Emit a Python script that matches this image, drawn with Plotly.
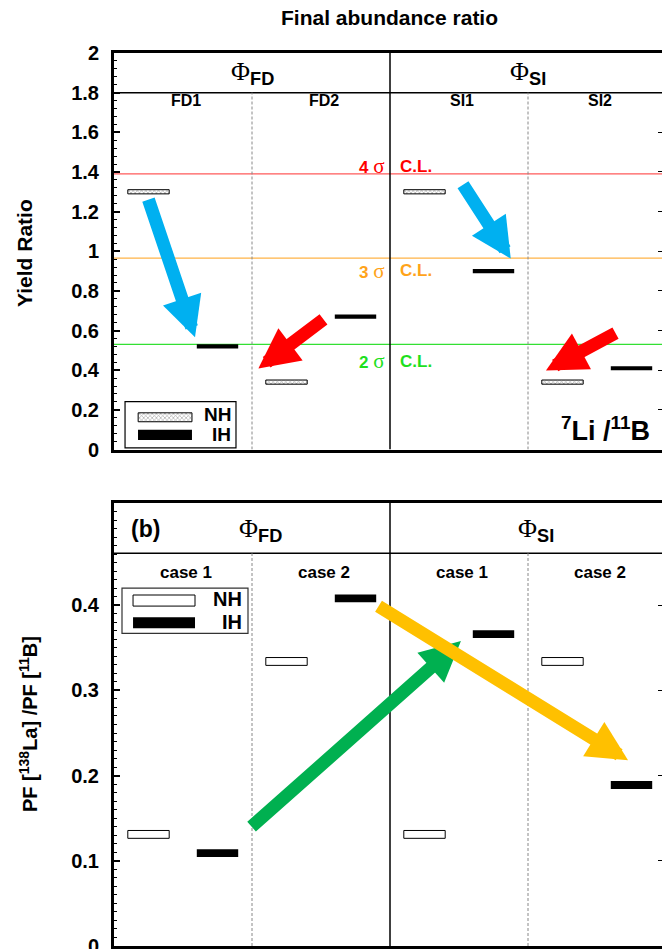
import plotly.graph_objects as go

# ---------------- data ----------------
top_cols = ["FD1", "FD2", "SI1", "SI2"]
bot_cols = ["case 1", "case 2", "case 1", "case 2"]
groups = ["FD", "SI"]
top_nh = [1.30, 0.34, 1.30, 0.34]
top_ih = [0.52, 0.67, 0.90, 0.41]
bot_nh = [0.131, 0.334, 0.131, 0.334]
bot_ih = [0.109, 0.408, 0.366, 0.189]
cl_levels = [1.39, 0.965, 0.53]
cl_names = ["4", "3", "2"]
cl_text_colors = ["#ff0000", "#ffa31a", "#1ee01e"]
cl_line_colors = ["#ff5a5a", "#ffb347", "#33e033"]
top_ticks = [0, 0.2, 0.4, 0.6, 0.8, 1.0, 1.2, 1.4, 1.6, 1.8, 2.0]
bot_ticks = [0, 0.1, 0.2, 0.3, 0.4]
# arrows: (tail_x, tail_y, tip_x, tip_y, colour)
top_arrows = [(-0.254, 1.268, 0.087, 0.566, "#00b0f0"),
              (2.022, 1.343, 2.375, 0.963, "#00b0f0"),
              (1.029, 0.662, 0.546, 0.408, "#ff0000"),
              (3.145, 0.591, 2.630, 0.399, "#ff0000")]
bot_arrows = [(0.486, 0.1385, 2.014, 0.358, "#00b050"),
              (1.406, 0.400, 3.225, 0.218, "#ffc000")]

W, H = 662, 949
ML = 114
PW = W - ML
FONT = "Liberation Sans, Arial, sans-serif"
SERIF = "Liberation Serif"
cols_x = list(range(4))
nh_x = [c - 0.25 for c in cols_x]
ih_x = [c + 0.25 for c in cols_x]
XR = [-0.5, -0.5 + PW / 138]


def px_x(px):
    return (px - ML) / PW


fig = go.Figure()

# ---- top panel bars ----
h_top = 0.021
pat = dict(shape="x", fgcolor="#555", bgcolor="white", size=3, solidity=0.4)
fig.add_trace(go.Bar(x=nh_x, y=[h_top] * 4, base=[v - h_top / 2 for v in top_nh], width=0.30,
                     marker=dict(color="white", line=dict(color="black", width=1), pattern=pat),
                     xaxis="x", yaxis="y", showlegend=False))
fig.add_trace(go.Bar(x=ih_x, y=[h_top] * 4, base=[v - h_top / 2 for v in top_ih], width=0.30,
                     marker=dict(color="black", line=dict(width=0)),
                     xaxis="x", yaxis="y", showlegend=False))
# legend swatch (top, patterned)
fig.add_trace(go.Bar(x=[-0.13], y=[0.045], base=[0.140], width=0.39,
                     marker=dict(color="white", line=dict(color="black", width=1), pattern=pat),
                     xaxis="x", yaxis="y", showlegend=False))

# ---- bottom panel bars ----
h_bot = 0.0092
fig.add_trace(go.Bar(x=nh_x, y=[h_bot] * 4, base=[v - h_bot / 2 for v in bot_nh], width=0.30,
                     marker=dict(color="white", line=dict(color="black", width=1)),
                     xaxis="x2", yaxis="y2", showlegend=False))
fig.add_trace(go.Bar(x=ih_x, y=[h_bot] * 4, base=[v - h_bot / 2 for v in bot_ih], width=0.30,
                     marker=dict(color="black", line=dict(width=0)),
                     xaxis="x2", yaxis="y2", showlegend=False))
# dummies for right-side tick axes
fig.add_trace(go.Scatter(x=[None], y=[None], xaxis="x", yaxis="y3", showlegend=False))
fig.add_trace(go.Scatter(x=[None], y=[None], xaxis="x2", yaxis="y4", showlegend=False))

top_dom = [1 - 449.5 / H, 1 - 53 / H]
bot_dom = [1 - 946 / H, 1 - 503 / H]

xax = dict(domain=[0, 1], range=XR, showline=True, linewidth=3, linecolor="black", mirror=True,
           showticklabels=False, ticks="", showgrid=False, zeroline=False, automargin=False)
fig.update_layout(
    width=W, height=H, margin=dict(l=ML, r=0, t=0, b=0, autoexpand=False),
    paper_bgcolor="white", plot_bgcolor="white", barmode="overlay",
    font=dict(family=FONT, color="black"),
    xaxis=dict(xax, anchor="y"),
    xaxis2=dict(xax, anchor="y2"),
    yaxis=dict(domain=top_dom, range=[0, 2], anchor="x", showline=True, linewidth=3, linecolor="black",
               ticks="inside", ticklen=6, tickwidth=1.5, tickcolor="black",
               tickvals=top_ticks, ticktext=[f"{v:g}" for v in top_ticks],
               tickfont=dict(size=20, family=FONT, weight="bold"), ticklabelstandoff=8,
               ticklabeloverflow="allow",
               minor=dict(ticks="inside", ticklen=3, dtick=0.04, tickcolor="black", tickwidth=1),
               showgrid=False, zeroline=False, automargin=False),
    yaxis2=dict(domain=bot_dom, range=[0, 0.52], anchor="x2", showline=True, linewidth=3, linecolor="black",
                ticks="inside", ticklen=6, tickwidth=1.5, tickcolor="black",
                tickvals=bot_ticks, ticktext=[f"{v:g}" for v in bot_ticks],
                tickfont=dict(size=20, family=FONT, weight="bold"), ticklabelstandoff=8,
                ticklabeloverflow="allow",
                minor=dict(ticks="inside", ticklen=3, dtick=0.01, tickcolor="black", tickwidth=1),
                showgrid=False, zeroline=False, automargin=False),
    yaxis3=dict(domain=top_dom, range=[0, 2], overlaying="y", anchor="free", position=1, side="right",
                showline=False, ticks="inside", ticklen=4, tickcolor="black", tickvals=top_ticks[1:-2],
                showticklabels=False, showgrid=False, zeroline=False, automargin=False),
    yaxis4=dict(domain=bot_dom, range=[0, 0.52], overlaying="y2", anchor="free", position=1, side="right",
                showline=False, ticks="inside", ticklen=4, tickcolor="black", tickvals=bot_ticks[1:],
                showticklabels=False, showgrid=False, zeroline=False, automargin=False),
)

shapes = []
ann = []
for (xr, yr, top, head) in [("x", "y", 2.0, 1.8), ("x2", "y2", 0.52, 0.461)]:
    shapes.append(dict(type="line", xref=f"{xr} domain", yref=yr, x0=0, x1=1, y0=head, y1=head,
                       line=dict(color="black", width=1.5)))
    shapes.append(dict(type="line", xref=xr, yref=yr, x0=1.5, x1=1.5, y0=0, y1=top,
                       line=dict(color="black", width=1.5)))
    for xd in (0.5, 2.5):
        shapes.append(dict(type="line", xref=xr, yref=yr, x0=xd, x1=xd, y0=0, y1=head,
                           line=dict(color="#888", width=1, dash="3px,2px")))

# confidence lines
for lev, lc in zip(cl_levels, cl_line_colors):
    shapes.append(dict(type="line", xref="x domain", yref="y", x0=0, x1=1, y0=lev, y1=lev,
                       line=dict(color=lc, width=1.2), layer="below"))
ypos_cl = [1.429, 0.901, 0.444]
for yv, nm, tc in zip(ypos_cl, cl_names, cl_text_colors):
    ann.append(dict(xref="x", yref="y", x=1.478, y=yv, xanchor="right", yanchor="middle", showarrow=False,
                    text=f'{nm} <span style="font-family:{SERIF};font-weight:normal;font-size:21px">σ</span>',
                    font=dict(size=17, color=tc, family=FONT, weight="bold")))
    ann.append(dict(xref="x", yref="y", x=1.558, y=yv, xanchor="left", yanchor="middle", showarrow=False,
                    text="C.L.", font=dict(size=17, color=tc, family=FONT, weight="bold")))

# column labels
for c, lab in zip(cols_x, top_cols):
    ann.append(dict(xref="x", yref="y", x=c + 0.02, y=1.76, showarrow=False, text=lab,
                    font=dict(size=16, family=FONT, weight="bold")))
for c, lab in zip(cols_x, bot_cols):
    ann.append(dict(xref="x2", yref="y2", x=c + 0.02, y=0.439, showarrow=False, text=lab,
                    font=dict(size=17, family=FONT, weight="bold")))

# group headers
for gx, g in zip([0.5, 2.5], groups):
    phi = f'<span style="font-family:{SERIF}">Φ</span><sub><b>{g}</b></sub>'
    ann.append(dict(xref="x", yref="y", x=gx, y=1.9, showarrow=False, text=phi,
                    font=dict(size=26, family=FONT)))
    ann.append(dict(xref="x2", yref="y2", x=gx + 0.06, y=0.488, showarrow=False, text=phi,
                    font=dict(size=26, family=FONT)))

# (b)
ann.append(dict(xref="x2", yref="y2", x=-0.275, y=0.49, showarrow=False, text="(b)",
                font=dict(size=23, family=FONT, weight="bold")))

# 7Li / 11B
ann.append(dict(xref="x", yref="y", x=3.06, y=0.105, showarrow=False,
                text="<sup>7</sup>Li /<sup>11</sup>B", font=dict(size=27, family=FONT, weight="bold")))

# legends
shapes.append(dict(type="rect", xref="x", yref="y", x0=-0.420, x1=0.384, y0=0.008, y1=0.241,
                   line=dict(color="black", width=1.2), fillcolor="rgba(0,0,0,0)"))
shapes.append(dict(type="rect", xref="x", yref="y", x0=-0.326, x1=0.065, y0=0.048, y1=0.099,
                   line=dict(width=0), fillcolor="black"))
ann.append(dict(xref="x", yref="y", x=0.36, y=0.175, xanchor="right", showarrow=False, text="NH",
                font=dict(size=19, family=FONT, weight="bold")))
ann.append(dict(xref="x", yref="y", x=0.36, y=0.078, xanchor="right", showarrow=False, text="IH",
                font=dict(size=19, family=FONT, weight="bold")))

shapes.append(dict(type="rect", xref="x2", yref="y2", x0=-0.442, x1=0.471, y0=0.367, y1=0.420,
                   line=dict(color="#333", width=1.2), fillcolor="white"))
shapes.append(dict(type="rect", xref="x2", yref="y2", x0=-0.362, x1=0.087, y0=0.399, y1=0.412,
                   line=dict(color="black", width=1), fillcolor="white"))
shapes.append(dict(type="rect", xref="x2", yref="y2", x0=-0.362, x1=0.087, y0=0.373, y1=0.386,
                   line=dict(width=0), fillcolor="black"))
ann.append(dict(xref="x2", yref="y2", x=0.44, y=0.407, xanchor="right", showarrow=False, text="NH",
                font=dict(size=20, family=FONT, weight="bold")))
ann.append(dict(xref="x2", yref="y2", x=0.44, y=0.380, xanchor="right", showarrow=False, text="IH",
                font=dict(size=20, family=FONT, weight="bold")))

# arrows
for (tx, ty, hx, hy, col) in top_arrows:
    ann.append(dict(xref="x", yref="y", axref="x", ayref="y", x=hx, y=hy, ax=tx, ay=ty, text="",
                    showarrow=True, arrowhead=2, arrowsize=0.62, arrowwidth=13, arrowcolor=col, standoff=0))
for (tx, ty, hx, hy, col) in bot_arrows:
    ann.append(dict(xref="x2", yref="y2", axref="x2", ayref="y2", x=hx, y=hy, ax=tx, ay=ty, text="",
                    showarrow=True, arrowhead=2, arrowsize=0.62, arrowwidth=13, arrowcolor=col, standoff=0))

# titles
ann.append(dict(xref="paper", yref="paper", x=px_x(389), y=1 - 18 / H, xanchor="center", yanchor="middle",
                showarrow=False, text="Final abundance ratio", font=dict(size=21, family=FONT, weight="bold")))
ann.append(dict(xref="paper", yref="paper", x=px_x(24), y=1 - 253 / H, xanchor="center", yanchor="middle",
                showarrow=False, textangle=-90,
                text="Yield Ratio", font=dict(size=21, family=FONT, weight="bold")))
ann.append(dict(xref="paper", yref="paper", x=px_x(28), y=1 - 724 / H, xanchor="center", yanchor="middle",
                showarrow=False, textangle=-90,
                text="PF [<sup>138</sup>La] /PF [<sup>11</sup>B]", font=dict(size=20, family=FONT, weight="bold")))

fig.update_layout(shapes=shapes, annotations=ann)
fig.write_html("out.html")
